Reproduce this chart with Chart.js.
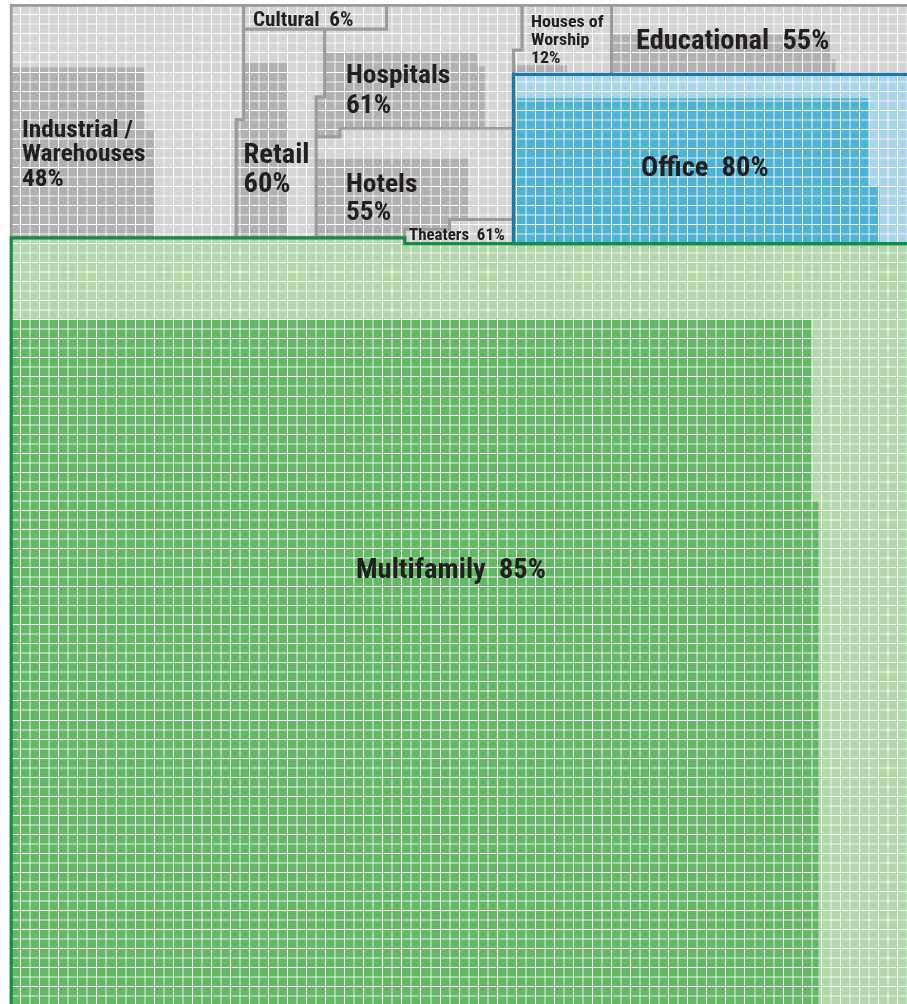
<!DOCTYPE html>
<html>
<head>
<meta charset="utf-8">
<script src="https://cdn.jsdelivr.net/npm/chart.js@4.4.1/dist/chart.umd.min.js"></script>
<style>
  html, body { margin: 0; padding: 0; background: #ffffff; }
  #wrap { width: 907px; height: 1004px; position: relative; }
</style>
</head>
<body>
<div id="wrap"><canvas id="c"></canvas></div>
<script>
// ---- DATA ----
const categories = ['Industrial /\nWarehouses', 'Cultural', 'Retail', 'Hospitals', 'Houses of\nWorship',
                    'Educational', 'Hotels', 'Theaters', 'Office', 'Multifamily'];
const percentages = [48, 6, 60, 61, 12, 55, 55, 61, 80, 85];
const groups = ['gray', 'gray', 'gray', 'gray', 'gray', 'gray', 'gray', 'gray', 'blue', 'green'];

// ---- LAYOUT (grid-cell units: x = column, y = row from top) ----
const regionShapes = [
  [[0,0],[24.4,0],[24.4,12],[23.6,12],[23.6,24.4],[0,24.4]],
  [[24.4,0],[39.4,0],[39.4,2.5],[24.4,2.5]],
  [[24.4,2.5],[32.9,2.5],[32.9,9.6],[32,9.6],[32,24.4],[23.6,24.4],[23.6,12],[24.4,12]],
  [[32.9,2.5],[39.4,2.5],[39.4,0],[53.6,0],[53.6,4.7],[52.7,4.7],[52.7,12.9],[34.5,12.9],[34.5,13.8],[32,13.8],[32,9.6],[32.9,9.6]],
  [[53.6,0],[63,0],[63,7.25],[52.7,7.25],[52.7,4.7],[53.6,4.7]],
  [[63,0],[95,0],[95,7.25],[63,7.25]],
  [[32,13.8],[34.5,13.8],[34.5,12.9],[52.7,12.9],[52.7,22.5],[46,22.5],[46,23.5],[41.3,23.5],[41.3,24.4],[32,24.4]],
  [[41.3,23.5],[46,23.5],[46,22.5],[52.7,22.5],[52.7,25],[41.3,25]],
  [[52.7,7.25],[95,7.25],[95,25],[52.7,25]],
  [[0,24.4],[41.3,24.4],[41.3,25],[95,25],[95,106],[0,106]]
];
const shareShapes = [
  [[0,6.5],[14,6.5],[14,13],[15,13],[15,24.4],[0,24.4]],
  null,
  [[24.4,6],[29,6],[29,24.4],[23.6,24.4],[23.6,12],[24.4,12]],
  [[32.9,5],[48.9,5],[48.9,6.4],[49.7,6.4],[49.7,12.9],[34.5,12.9],[34.5,13.8],[32,13.8],[32,9.6],[32.9,9.6]],
  [[52.7,6.3],[58.3,6.3],[58.3,7.25],[52.7,7.25]],
  [[63,3.1],[86.1,3.1],[86.1,5.7],[86.5,5.7],[86.5,7.25],[63,7.25]],
  [[32,16],[48,16],[48,22.5],[46,22.5],[46,23.5],[41.3,23.5],[41.3,24.4],[32,24.4]],
  null,
  [[52.7,9.75],[90,9.75],[90,19],[91.1,19],[91.1,25],[52.7,25]],
  [[0,33],[84,33],[84,52],[84.7,52],[84.7,106],[0,106]]
];
// [column, first baseline row, font px, line height px, mode]
const labelSpots = [
  [1.13, 13.82, 24, 24.5, 'stack'],
  [25.37, 2.17, 20, 0, 'inline'],
  [24.38, 16.55, 27, 29, 'stack'],
  [35.13, 8.2, 26, 29.5, 'stack'],
  [54.54, 2.28, 17, 18, 'stack'],
  [65.56, 4.59, 27, 0, 'inline'],
  [35.13, 19.54, 26, 28.5, 'stack'],
  [41.74, 24.63, 16, 0, 'inline'],
  [66.09, 17.91, 27, 0, 'inline'],
  [36.18, 60.1, 27, 0, 'inline']
];

const palette = {
  gray:  { light: '#d4d4d4', dark: '#b1b1b1', edge: '#9b9b9b', edgeW: 2.7 },
  blue:  { light: '#a9d5e8', dark: '#4cb3d3', edge: '#1b78ad', edgeW: 3.2 },
  green: { light: '#b1d7aa', dark: '#63b866', edge: '#178a49', edgeW: 3.2 }
};
const COLS = 94, ROWS = 104.8;

// pick a condensed family that is really installed
const measureCtx = document.createElement('canvas').getContext('2d');
const probe = 'Warehouses Multifamily 85%';
function widthOf(fam) {
  measureCtx.font = "bold 40px " + fam;
  return measureCtx.measureText(probe).width;
}
const wMono = widthOf('monospace');
const wRoboto = widthOf("'Roboto', monospace");
const wRobotoC = widthOf("'Roboto Condensed', monospace");
const wDejaC = widthOf("'DejaVu Sans Condensed', monospace");
let FAMILY = 'sans-serif';
if (Math.abs(wRobotoC - wMono) > 0.5 && Math.abs(wRobotoC - wRoboto) / wRoboto > 0.03) FAMILY = 'Roboto Condensed';
else if (Math.abs(wDejaC - wMono) > 0.5) FAMILY = 'DejaVu Sans Condensed';
else if (Math.abs(wRoboto - wMono) > 0.5) FAMILY = 'Roboto';
const FONT = "'" + FAMILY + "', sans-serif";
// horizontal fit so that 'Multifamily  85%' at 27px spans ~190px like the original type
measureCtx.font = 'bold 27px ' + FONT;
const SQUEEZE = Math.max(0.75, Math.min(1.12, 190 / measureCtx.measureText('Multifamily  85%').width));

const toPts = shape => shape.map(p => ({ x: p[0], y: p[1] }));
const datasets = [];
categories.forEach((cat, i) => {
  const pal = palette[groups[i]];
  datasets.push({ label: cat + ' area', data: toPts(regionShapes[i]), backgroundColor: pal.light });
  if (shareShapes[i]) {
    datasets.push({ label: cat + ' ' + percentages[i] + '%', data: toPts(shareShapes[i]), backgroundColor: pal.dark });
  }
});
datasets.forEach((d, i) => {
  Object.assign(d, { fill: 'shape', borderWidth: 0, borderColor: 'rgba(0,0,0,0)', pointRadius: 0,
                     pointHoverRadius: 0, tension: 0, order: -i });
});

const gridColor = c => (c.index % 2 === 1) ? 'rgba(255,255,255,0.97)' : 'rgba(255,255,255,0.42)';
const gridWidth = c => (c.index % 2 === 1) ? 1 : 2;
const intTicks = n => scale => { scale.ticks = Array.from({ length: n + 1 }, (_, k) => ({ value: k })); };

const outlinePlugin = {
  id: 'outlinesAndLabels',
  afterDraw(chart) {
    const { ctx, scales: { x, y } } = chart;
    ['gray', 'blue', 'green'].forEach(g => {
      categories.forEach((cat, i) => {
        if (groups[i] !== g) return;
        const pal = palette[g];
        ctx.save();
        ctx.strokeStyle = pal.edge;
        ctx.lineWidth = pal.edgeW;
        ctx.lineJoin = 'miter';
        ctx.beginPath();
        regionShapes[i].forEach((p, k) => {
          const px = x.getPixelForValue(p[0]), py = y.getPixelForValue(p[1]);
          if (k === 0) ctx.moveTo(px, py); else ctx.lineTo(px, py);
        });
        ctx.closePath();
        ctx.stroke();
        ctx.restore();
      });
    });
    categories.forEach((cat, i) => {
      const [cx, cy, size, lh, mode] = labelSpots[i];
      const px = x.getPixelForValue(cx), py = y.getPixelForValue(cy);
      const lines = mode === 'stack' ? cat.split('\n').concat(percentages[i] + '%')
                                     : [cat + '  ' + percentages[i] + '%'];
      ctx.save();
      ctx.translate(px, py);
      ctx.scale(SQUEEZE, 1);
      ctx.fillStyle = '#231f20';
      ctx.font = 'bold ' + size + 'px ' + FONT;
      ctx.textAlign = 'left';
      ctx.textBaseline = 'alphabetic';
      lines.forEach((t, k) => ctx.fillText(t, 0, k * lh));
      ctx.restore();
    });
  }
};

new Chart(document.getElementById('c'), {
  type: 'line',
  data: { datasets },
  options: {
    responsive: true,
    maintainAspectRatio: false,
    devicePixelRatio: 1,
    animation: false,
    events: [],
    layout: { padding: { left: 11.2, top: 5.3, right: 0, bottom: 0 } },
    plugins: { legend: { display: false }, tooltip: { enabled: false }, title: { display: false } },
    scales: {
      x: {
        type: 'linear', min: 0, max: COLS,
        afterBuildTicks: intTicks(COLS),
        ticks: { display: false },
        grid: { drawTicks: false, color: gridColor, lineWidth: gridWidth, z: 1 },
        border: { display: false }
      },
      y: {
        type: 'linear', min: 0, max: ROWS, reverse: true,
        afterBuildTicks: intTicks(Math.floor(ROWS)),
        ticks: { display: false },
        grid: { drawTicks: false, color: gridColor, lineWidth: gridWidth, z: 1 },
        border: { display: false }
      }
    }
  },
  plugins: [outlinePlugin]
});
</script>
</body>
</html>
